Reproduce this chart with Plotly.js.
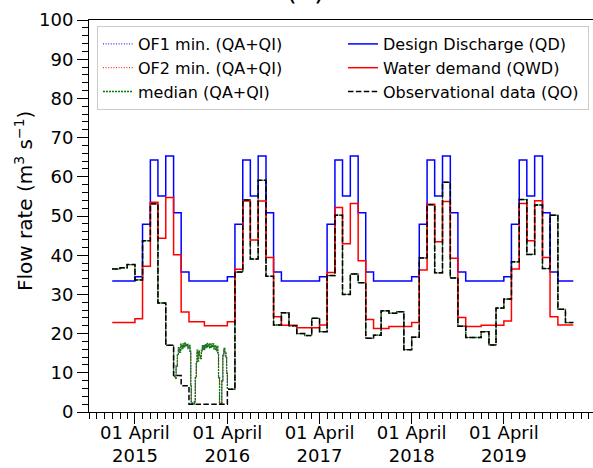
<!DOCTYPE html>
<html>
<head>
<meta charset="utf-8">
<script src="https://cdn.plot.ly/plotly-3.0.1.min.js"></script>
<style>
html,body{margin:0;padding:0;overflow:hidden;background:#fff;}
#chart{width:620px;height:468px;}
</style>
</head>
<body>
<div id="chart"></div>
<script>
// ---- data (monthly, Jan 2015 .. Dec 2019) ----
const years = [2015, 2016, 2017, 2018, 2019];

const designDischarge = [
  33.4,33.4,33.4,34.5,47.9,64.3,55.1,65.3,50.8,35.7,33.4,33.4,
  33.4,33.4,33.4,34.5,47.9,64.3,55.1,65.3,50.8,35.7,33.4,33.4,
  33.4,33.4,33.4,34.5,47.9,64.3,55.1,65.3,50.8,35.7,33.4,33.4,
  33.4,33.4,33.4,34.5,47.9,64.3,55.1,65.3,50.8,35.7,33.4,33.4,
  33.4,33.4,33.4,34.5,47.9,64.3,55.1,65.3,50.8,35.7,33.4,33.4
];

const waterDemand = [
  22.8,22.8,22.8,23.8,37.2,53.5,44.3,54.7,40.1,25.5,23.0,23.0,
  22.0,22.0,22.0,23.0,36.4,53.8,43.9,53.8,39.4,24.3,22.1,22.1,
  21.5,21.5,21.5,22.2,35.6,52.2,42.9,53.2,38.6,23.6,21.3,21.3,
  21.8,21.8,21.8,22.8,36.2,53.0,43.4,53.7,39.2,24.1,21.8,21.8,
  22.1,22.1,22.1,23.2,36.5,53.2,43.7,53.9,39.4,24.3,22.2,22.2
];

const observed = [
  36.5,36.8,37.6,33.7,43.7,53.1,27.8,17.0, 9.3, 6.7, 2.0, 2.0,
   2.0, 2.0, 2.0, 5.8,35.7,54.1,39.0,59.1,34.6,22.2,25.3,22.0,
  20.0,19.5,23.9,20.5,34.8,50.2,30.0,35.2,33.0,18.8,19.6,25.8,
  25.2,25.6,15.9,19.1,39.3,52.9,35.5,58.6,34.2,21.9,19.0,19.0,
  20.5,17.1,26.5,28.8,38.3,54.2,40.2,52.8,36.6,50.2,26.2,22.8
];

// simulated (QA+QI) during the dry spell Sep 2015 - Mar 2016 (elsewhere they follow the observations)
const simDates = [
  '2015-09-01','2015-09-06','2015-09-11','2015-09-16','2015-09-20','2015-09-25','2015-09-29',
  '2015-10-04','2015-10-08','2015-10-12','2015-10-16','2015-10-20','2015-10-24','2015-10-28',
  '2015-11-01','2015-11-05','2015-11-08','2015-11-10','2015-11-16','2015-11-22','2015-11-26','2015-11-30',
  '2015-12-03','2015-12-06','2015-12-09','2015-12-12','2015-12-16','2015-12-20','2015-12-24','2015-12-28',
  '2016-01-02','2016-01-06','2016-01-10','2016-01-14','2016-01-18','2016-01-22','2016-01-26','2016-01-30',
  '2016-02-03','2016-02-07','2016-02-11','2016-02-15','2016-02-19','2016-02-23','2016-02-26',
  '2016-03-01','2016-03-06','2016-03-10','2016-03-14','2016-03-18','2016-03-22','2016-03-26','2016-03-29'
];
const simMedian = [
   9.4, 8.6,11.8,14.5,16.4,15.2,17.3,
  16.2,17.4,16.5,17.6,16.8,17.3,16.2,
  17.0,15.5, 7.0, 2.3, 2.0, 2.6, 9.0,12.5,
  15.8,13.0,15.6,14.2,13.6,15.8,16.9,15.9,
  17.2,16.4,17.5,16.6,17.4,16.3,17.3,16.5,
  17.4,16.1,17.0,15.6,16.8,15.0, 9.0,
   2.0, 2.2, 8.0,14.5,16.2,15.0,13.8,10.0
];
const simOF2 = [
   9.4, 8.8,11.5,14.8,16.1,15.6,17.0,
  16.5,17.2,16.8,17.3,17.1,17.0,16.5,
  16.8,15.2, 6.5, 2.2, 2.1, 2.8, 8.5,12.9,
  15.4,13.4,15.2,14.6,13.9,15.5,16.6,16.2,
  16.9,16.7,17.2,16.9,17.1,16.6,17.0,16.8,
  17.1,16.4,16.7,15.9,16.5,15.3, 8.6,
   2.1, 2.3, 7.6,14.1,16.0,15.3,14.1, 9.6
];
const simOF1 = [
   9.4, 8.7,11.6,14.6,16.2,15.4,17.1,
  16.3,17.3,16.6,17.5,16.9,17.2,16.3,
  16.9,15.3, 6.8, 2.2, 2.0, 2.7, 8.8,12.7,
  15.6,13.2,15.4,14.4,13.7,15.6,16.8,16.0,
  17.1,16.5,17.4,16.7,17.3,16.4,17.2,16.6,
  17.3,16.2,16.9,15.7,16.7,15.1, 8.8,
   2.0, 2.2, 7.8,14.3,16.1,15.1,13.9, 9.8
];

// ---- build month start dates ----
const monthDates = [];
years.forEach(y => { for (let m = 1; m <= 12; m++) monthDates.push(y + '-' + String(m).padStart(2,'0') + '-01'); });
const endDate = '2020-01-01';

function stepSeries(vals) {
  return { x: monthDates.concat([endDate]), y: vals.concat([vals[vals.length-1]]) };
}
function simSeries(winterVals) {
  const xs = [], ys = [];
  monthDates.forEach((d, i) => { if (d < simDates[0]) { xs.push(d); ys.push(observed[i]); } });
  simDates.forEach((d, i) => { xs.push(d); ys.push(winterVals[i]); });
  monthDates.forEach((d, i) => { if (d > simDates[simDates.length-1]) { xs.push(d); ys.push(observed[i]); } });
  xs.push(endDate); ys.push(observed[observed.length-1]);
  return { x: xs, y: ys };
}

const FONT = 'DejaVu Sans, sans-serif';
const sOF1 = simSeries(simOF1), sOF2 = simSeries(simOF2), sMed = simSeries(simMedian);
const sQD = stepSeries(designDischarge), sQWD = stepSeries(waterDemand), sQO = stepSeries(observed);

const traces = [
  {name:'OF1 min. (QA+QI)', x:sOF1.x, y:sOF1.y, mode:'lines', line:{shape:'hv', color:'#0000ff', width:1, dash:'1px,1.6px'}, legendrank:1},
  {name:'OF2 min. (QA+QI)', x:sOF2.x, y:sOF2.y, mode:'lines', line:{shape:'hv', color:'#ff0000', width:1, dash:'1px,1.6px'}, legendrank:3},
  {name:'median (QA+QI)', x:sMed.x, y:sMed.y, mode:'lines', line:{shape:'hv', color:'#008000', width:1.3, dash:'2px,1px'}, legendrank:5},
  {name:'Design Discharge (QD)', x:sQD.x, y:sQD.y, mode:'lines', line:{shape:'hv', color:'#0000ff', width:1.5}, legendrank:2},
  {name:'Water demand (QWD)', x:sQWD.x, y:sQWD.y, mode:'lines', line:{shape:'hv', color:'#ff0000', width:1.5}, legendrank:4},
  {name:'Observational data (QO)', x:sQO.x, y:sQO.y, mode:'lines', line:{shape:'hv', color:'#000000', width:1.5, dash:'5.5px,2.4px'}, legendrank:6}
];

const layout = {
  width: 620, height: 468,
  margin: {l: 89, r: 0, t: 20, b: 56},
  paper_bgcolor: '#ffffff', plot_bgcolor: '#ffffff',
  font: {family: FONT, size: 18, color: '#000'},
  showlegend: true,
  legend: {
    orientation: 'h', x: 8/531, xanchor: 'left', y: (412-26)/392, yanchor: 'top',
    entrywidth: 200, entrywidthmode: 'pixels',
    bgcolor: '#ffffff', bordercolor: '#cccccc', borderwidth: 1,
    font: {family: FONT, size: 16, color: '#000'}, traceorder: 'normal'
  },
  xaxis: {
    type: 'date', range: ['2014-10-01', '2020-07-04'],
    tick0: '2015-04-01', dtick: 'M12', tickformat: '%d %B<br>%Y',
    ticks: 'outside', ticklen: 11, tickwidth: 1, tickcolor: '#000',
    ticklabelstandoff: -7,
    showline: true, linecolor: '#000', linewidth: 1, mirror: true,
    showgrid: false, zeroline: false,
    tickfont: {family: FONT, size: 18, color: '#000'},
    minor: {dtick: 'M1', tick0: '2014-10-01', ticks: 'outside', ticklen: 6, tickcolor: '#000', showgrid: false}
  },
  yaxis: {
    range: [0, 100], dtick: 10, tick0: 0,
    ticks: 'outside', ticklen: 11, tickwidth: 1, tickcolor: '#000',
    showline: true, linecolor: '#000', linewidth: 1, mirror: true,
    showgrid: false, zeroline: false,
    tickfont: {family: FONT, size: 18, color: '#000'},
    minor: {dtick: 2, ticks: 'outside', ticklen: 6, tickcolor: '#000', showgrid: false}
  },
  annotations: [
    {
      text: 'Flow rate (m<sup>3</sup> s<sup>−1</sup>)', textangle: -90,
      xref: 'paper', yref: 'paper', x: (24-89)/531, y: (412-201)/392,
      xanchor: 'center', yanchor: 'middle', showarrow: false,
      font: {family: FONT, size: 20, color: '#000'}
    },
    {
      text: '(a)', xref: 'paper', yref: 'paper',
      x: (305-89)/531, y: (412+9)/392, xanchor: 'center', yanchor: 'middle',
      showarrow: false, font: {family: FONT, size: 28, color: '#000'}
    }
  ]
};

Plotly.newPlot('chart', traces, layout, {displayModeBar: false, staticPlot: true});
</script>
</body>
</html>
